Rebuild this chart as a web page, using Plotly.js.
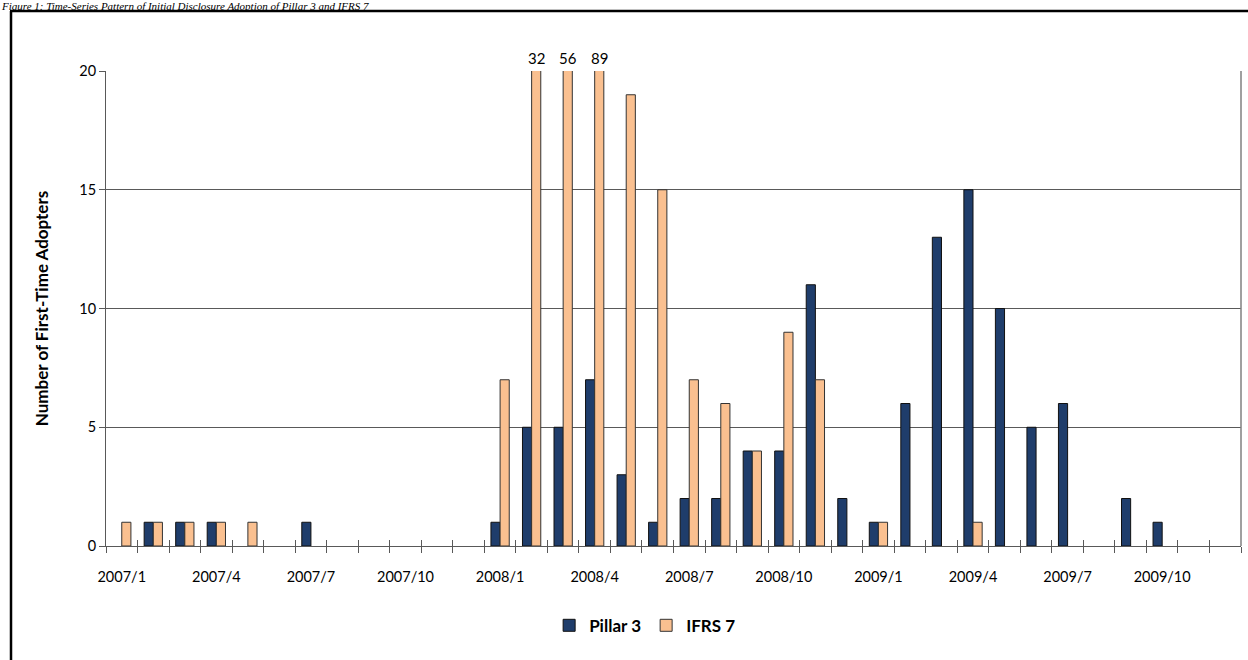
<!DOCTYPE html>
<html>
<head>
<meta charset="utf-8">
<script src="https://cdn.plot.ly/plotly-3.0.1.min.js"></script>
<style>html,body{margin:0;padding:0;background:#fff;overflow:hidden;}#chart{width:1248px;height:660px;}</style>
</head>
<body>
<div id="chart"></div>
<script>
const months = ["2007/1","2007/2","2007/3","2007/4","2007/5","2007/6","2007/7","2007/8","2007/9","2007/10","2007/11","2007/12",
  "2008/1","2008/2","2008/3","2008/4","2008/5","2008/6","2008/7","2008/8","2008/9","2008/10","2008/11","2008/12",
  "2009/1","2009/2","2009/3","2009/4","2009/5","2009/6","2009/7","2009/8","2009/9","2009/10","2009/11","2009/12"];
const tickLabels = ["2007/1","","","2007/4","","","2007/7","","","2007/10","","",
  "2008/1","","","2008/4","","","2008/7","","","2008/10","","",
  "2009/1","","","2009/4","","","2009/7","","","2009/10","",""];
const pillar3 = [0,1,1,1,0,0,1,0,0,0,0,0, 1,5,5,7,3,1,2,2,4,4,11,2, 1,6,13,15,10,5,6,0,2,1,0,0];
const ifrs7   = [1,1,1,1,1,0,0,0,0,0,0,0, 7,32,56,89,19,15,7,6,4,9,7,0, 1,0,0,1,0,0,0,0,0,0,0,0];
const yMax = 20;
const pageTitle = "Figure 1: Time-Series Pattern of Initial Disclosure Adoption of Pillar 3 and IFRS 7";

const font = "Lato, 'Open Sans', sans-serif";
const gridCol = "#595959";
const nz = arr => arr.map(v => v === 0 ? null : v);

const traces = [
  {type:"bar", name:"Pillar 3", x:months, y:nz(pillar3),
   marker:{color:"#1F3D6B", line:{color:"#111", width:1}}},
  {type:"bar", name:"IFRS 7", x:months, y:nz(ifrs7),
   marker:{color:"#FAC090", line:{color:"#333", width:1}}},
  {type:"scatter", x:[months[0]], y:[null], xaxis:"x2", showlegend:false, hoverinfo:"skip"}
];

const annotations = [];
ifrs7.forEach((v,i)=>{
  if (v > yMax) annotations.push({x:months[i], y:yMax, xref:"x", yref:"y", text:String(v),
    showarrow:false, yanchor:"bottom", xshift:5, yshift:2, font:{family:font, size:15, color:"#000"}});
});
annotations.push({x:-0.0934, xref:"paper", xanchor:"left", y:(546+1)/475, yref:"paper", yanchor:"top",
  text:"<i>"+pageTitle+"</i>", showarrow:false, borderpad:0,
  font:{family:"'Liberation Serif', serif", size:11, color:"#000"}});

const layout = {
  width:1248, height:660,
  margin:{l:106, r:7, t:71, b:114},
  paper_bgcolor:"#fff", plot_bgcolor:"#fff",
  barmode:"group", bargap:0.42, bargroupgap:0,
  showlegend:true,
  legend:{orientation:"h", x:0.475, xanchor:"center", y:-0.13, yanchor:"top",
    font:{family:font, size:17, color:"#000", weight:"bold"}, traceorder:"normal", itemwidth:30},
  xaxis:{type:"category", categoryorder:"array", categoryarray:months,
    tickvals:months, ticktext:tickLabels, tickson:"boundaries",
    ticks:"outside", ticklen:6, tickcolor:gridCol, tickwidth:1, ticklabelstandoff:18,
    showline:true, linecolor:gridCol, linewidth:1, showgrid:false,
    tickfont:{family:font, size:14.5, color:"#000"}, tickangle:0, range:[-0.5, months.length-0.5]},
  xaxis2:{type:"category", overlaying:"x", matches:"x", anchor:"y", side:"bottom",
    categoryorder:"array", categoryarray:months,
    tickvals:months, ticktext:months.map(()=>""), tickson:"boundaries",
    ticks:"inside", ticklen:6, tickcolor:gridCol, tickwidth:1, showline:false, showgrid:false,
    showticklabels:false},
  yaxis:{range:[0,yMax], tickvals:[0,5,10,15,20], ticks:"outside", ticklen:6, tickcolor:gridCol,
    showline:true, linecolor:gridCol, linewidth:1, showgrid:true, gridcolor:gridCol, gridwidth:1,
    zeroline:false, tickfont:{family:font, size:14.5, color:"#000"},
    title:{text:"Number of First-Time Adopters", font:{family:font, size:17, color:"#000", weight:"bold"}, standoff:26}},
  annotations:annotations,
  shapes:[
    {type:"line", xref:"paper", yref:"paper", x0:1, x1:1, y0:0, y1:1,
     line:{color:"#808080", width:1.5}, layer:"above"},
    {type:"line", xref:"paper", yref:"paper", x0:(10-106)/1135, x1:(1260-106)/1135, y0:(546-11)/475, y1:(546-11)/475,
     line:{color:"#000", width:2.5}, layer:"above"},
    {type:"line", xref:"paper", yref:"paper", x0:(11-106)/1135, x1:(11-106)/1135, y0:(546-11)/475, y1:(546-680)/475,
     line:{color:"#000", width:2.5}, layer:"above"}
  ]
};

Plotly.newPlot("chart", traces, layout, {displayModeBar:false, staticPlot:true});
</script>
</body>
</html>
